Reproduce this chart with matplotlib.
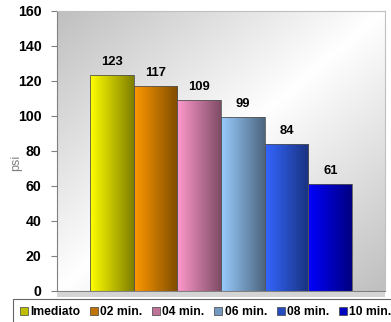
import numpy as np
import matplotlib.pyplot as plt
from matplotlib.patches import Patch, Rectangle
from matplotlib.colors import to_rgb

plt.rcParams['font.family'] = ['Liberation Sans', 'DejaVu Sans']

categories = ["Imediato", "02 min.", "04 min.", "06 min.", "08 min.", "10 min."]
values = [123, 117, 109, 99, 84, 61]
light_colors = ["#FFFF00", "#FF9900", "#FF99CC", "#99CCFF", "#3366FF", "#0000FF"]
y_ticks = [0, 20, 40, 60, 80, 100, 120, 140, 160]

W, H = 391, 322
fig = plt.figure(figsize=(W / 100, H / 100), dpi=100)
ax = fig.add_axes([57 / W, 1 - 291 / H, 328 / W, 280.5 / H])

# background: grey at top-left and bottom-right, white along the other diagonal
u, v = np.meshgrid(np.linspace(0, 1, 200), np.linspace(1, 0, 200))
s = np.abs(u - v)
bg = 1 - 0.25 * s
ax.imshow(np.dstack([bg, bg, bg]), extent=[0, 1, 0, 1], transform=ax.transAxes,
          aspect='auto', zorder=0, interpolation='bilinear')

x = np.arange(len(values))
bars = ax.bar(x, values, width=1.0, facecolor='none', edgecolor='#555555',
              linewidth=0.6, zorder=3)

grad = np.linspace(0, 1, 100)
for bar, c in zip(bars, light_colors):
    c0 = np.array(to_rgb(c))
    c1 = c0 * 0.5
    img = c0[None, :] * (1 - grad[:, None]) + c1[None, :] * grad[:, None]
    img = img[None, :, :]
    bx, bw, bh = bar.get_x(), bar.get_width(), bar.get_height()
    im = ax.imshow(img, extent=[bx, bx + bw, 0, bh], aspect='auto', zorder=2,
                   interpolation='bilinear')
    im.set_clip_path(bar)

ax.bar_label(bars, padding=5, fontsize=9.4, fontweight='bold')

ax.set_xlim(-1.25, 6.25)
ax.set_ylim(0, 160)
ax.set_yticks(y_ticks)
ax.set_xticks([])
ax.tick_params(axis='y', length=4, width=0.8, color='#808080', pad=7,
               labelsize=10.2, labelcolor='black')
for lab in ax.get_yticklabels():
    lab.set_fontweight('bold')
ax.spines['left'].set_color('#808080')
ax.spines['bottom'].set_color('#808080')
ax.spines['top'].set_color('#C0C0C0')
ax.spines['right'].set_color('#C0C0C0')
for sp in ax.spines.values():
    sp.set_linewidth(0.8)

fig.text(16 / W, 1 - 163 / H, "psi", rotation=90, color='#808080', fontsize=9,
         ha='center', va='center')

# floor band under the plot
fig.patches.append(Rectangle((57 / W, 1 - 297 / H), 328 / W, 5 / H,
                             transform=fig.transFigure, facecolor='#D4D4D4',
                             edgecolor='none'))

handles = [Patch(facecolor=tuple(np.array(to_rgb(c)) * 0.75), edgecolor='#404040',
                 linewidth=0.5) for c in light_colors]
leg = fig.legend(handles, categories, loc='upper left',
                 bbox_to_anchor=(12.7 / W, 1 - 299 / H), ncol=6, frameon=True,
                 fancybox=False, borderaxespad=0,
                 prop={'weight': 'bold', 'size': 8.7},
                 handlelength=0.65, handleheight=0.65, handletextpad=0.2,
                 columnspacing=0.8, borderpad=0.6)
leg.get_frame().set_edgecolor('#404040')
leg.get_frame().set_linewidth(0.8)

fig.savefig("out.png", dpi=100)
